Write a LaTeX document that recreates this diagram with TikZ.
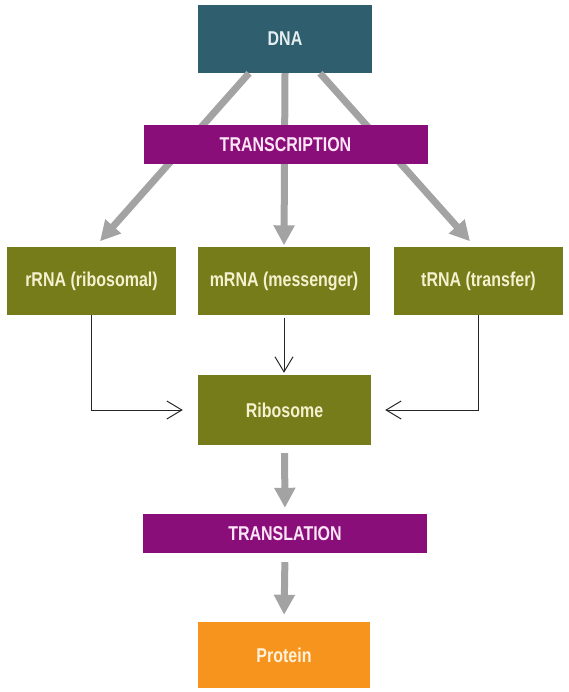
\documentclass[tikz,border=0pt]{standalone}
\usepackage{fontspec}
\setmainfont{Liberation Sans}[FakeStretch=0.8]
\usetikzlibrary{arrows.meta}
\definecolor{teal1}{HTML}{2F5E6E}
\definecolor{purp}{HTML}{8A0E7A}
\definecolor{olive1}{HTML}{767C1A}
\definecolor{orng}{HTML}{F7941D}
\definecolor{arrgray}{HTML}{A3A3A3}
\definecolor{txtolive}{HTML}{F4F1CF}
\definecolor{txtpurp}{HTML}{FCE6F6}
\definecolor{txtteal}{HTML}{E4EEF0}
\definecolor{txtorng}{HTML}{FFF1DA}
\tikzset{
  box/.style={rectangle, inner sep=0pt, anchor=center, font=\fontsize{20}{22}\selectfont\bfseries},
  dnabox/.style={box, fill=teal1, text=txtteal, minimum width=174pt, minimum height=68pt},
  procbox/.style={box, fill=purp, text=txtpurp, minimum width=284pt, minimum height=39pt},
  rnabox/.style={box, fill=olive1, text=txtolive, minimum height=67pt},
  protbox/.style={box, fill=orng, text=txtorng, minimum width=172pt, minimum height=66pt},
  bigarrow/.style={draw=arrgray, line width=7pt, -{Triangle[width=20pt,length=20pt]}},
  thinarrow/.style={draw=black!85, line width=1pt, -{Straight Barb[width=18pt,length=15pt,line width=1pt]}}
}
\begin{document}
\begin{tikzpicture}[x=1pt,y=-1pt]
\useasboundingbox (0,0) rectangle (568,692);
% nodes
\node[dnabox] (dna) at (285,39) {DNA};
\node[rnabox, minimum width=169pt] (rrna) at (91.5,281) {rRNA (ribosomal)};
\node[rnabox, minimum width=172pt] (mrna) at (284,281) {mRNA (messenger)};
\node[rnabox, minimum width=169pt] (trna) at (478.5,281) {tRNA (transfer)};
% gray arrows from DNA (behind TRANSCRIPTION)
\draw[bigarrow] ([xshift=-36pt]dna.south) -- ([xshift=8.5pt,yshift=6pt]rrna.north);
\draw[bigarrow, shorten >=2pt] (dna.south) -- (mrna.north);
\draw[bigarrow] ([xshift=35pt]dna.south) -- ([xshift=-8.5pt,yshift=6pt]trna.north);
\node[procbox] (transc) at (285.5,145) {TRANSCRIPTION};
\node[rnabox, minimum width=173pt, minimum height=70pt] (ribo) at (284.5,410) {Ribosome};
\node[procbox] (transl) at (285,533.5) {TRANSLATION};
\node[protbox] (prot) at (284,655) {Protein};
% thin connectors
\draw[thinarrow, shorten >=15pt] (rrna.south) |- (ribo.west);
\draw[thinarrow, shorten >=14pt] (trna.south) |- (ribo.east);
\draw[thinarrow, shorten <=3pt, shorten >=2pt] (mrna.south) -- (mrna.south |- ribo.north);
% lower gray arrows
\draw[bigarrow, shorten <=8pt, shorten >=6pt] (ribo.south) -- (transl.north);
\draw[bigarrow, shorten <=9pt, shorten >=7pt] (transl.south) -- (prot.north);
\end{tikzpicture}
\end{document}
